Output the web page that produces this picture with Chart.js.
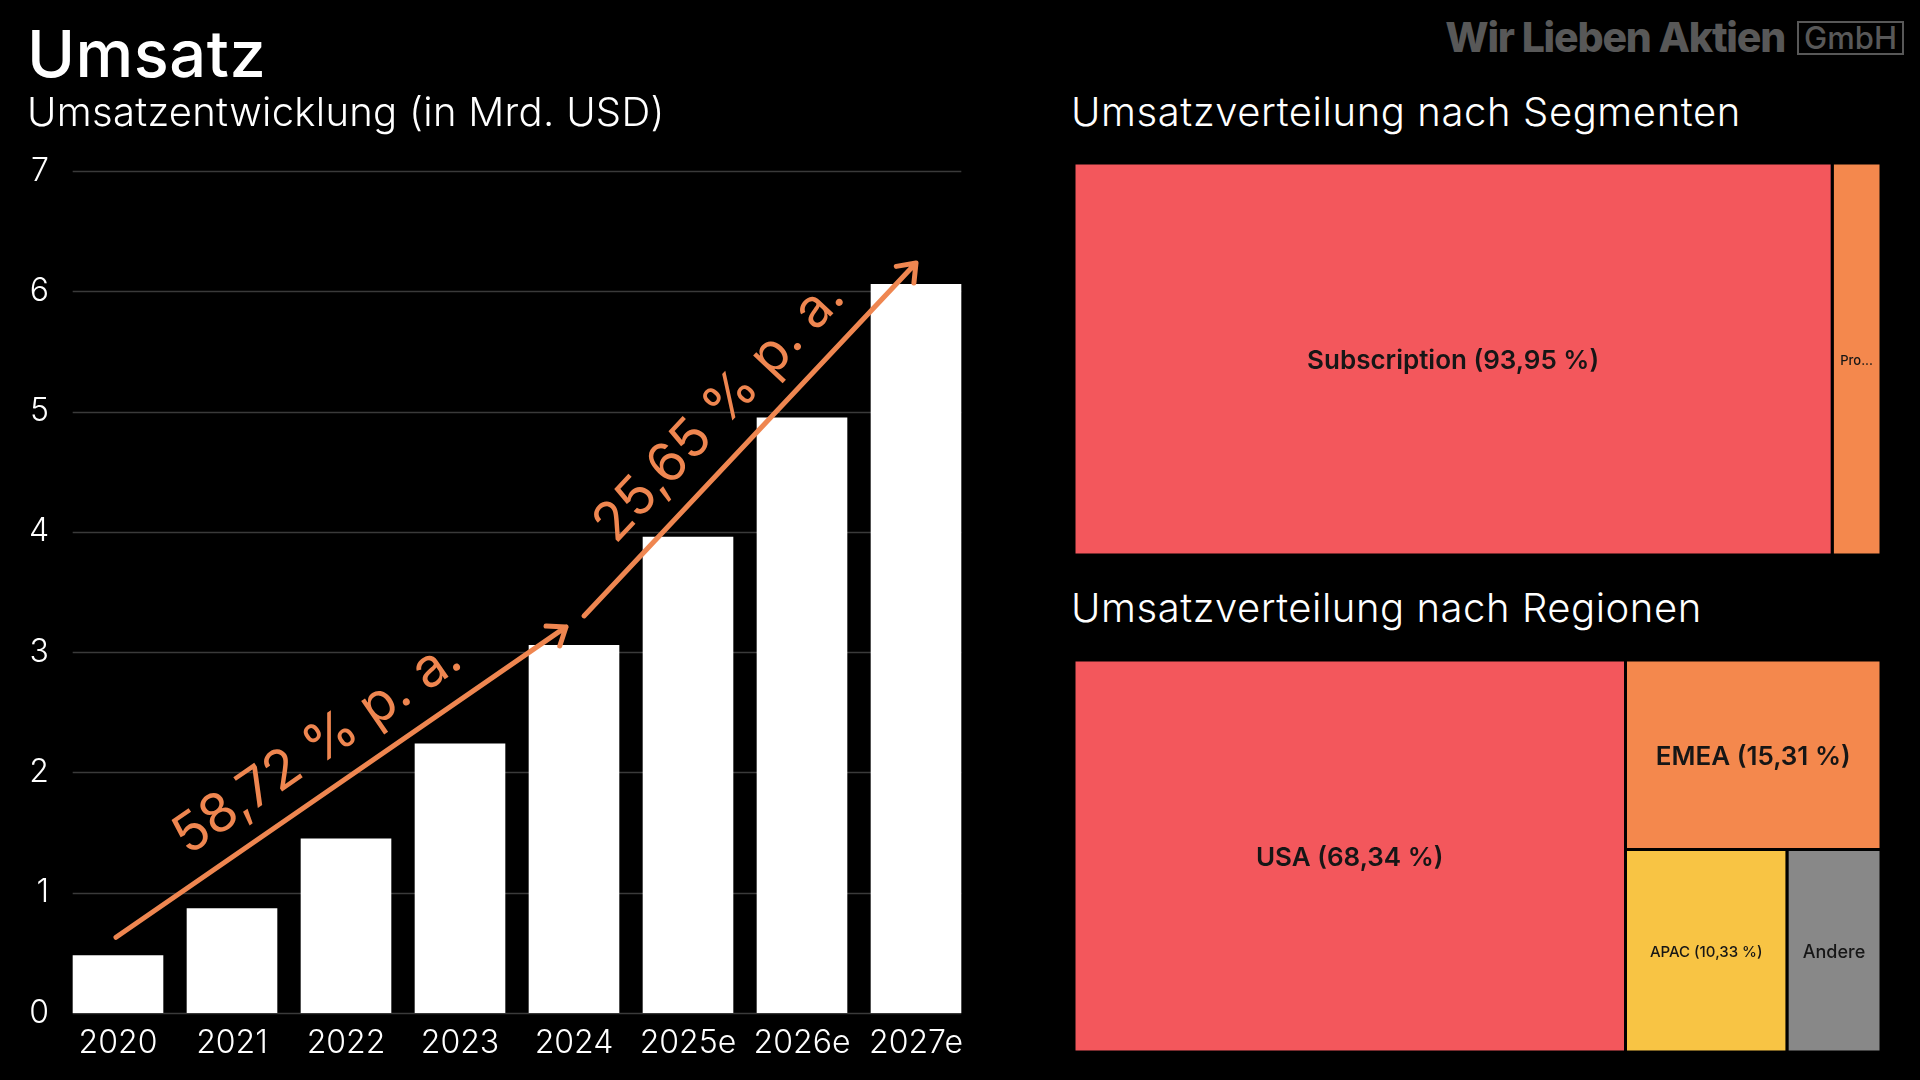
<!DOCTYPE html>
<html lang="de">
<head>
<meta charset="utf-8">
<title>Umsatz</title>
<script src="https://cdn.jsdelivr.net/npm/chart.js@4.4.1/dist/chart.umd.min.js"></script>
<style>
  html, body { margin: 0; padding: 0; background: #000; }
  body { width: 1920px; height: 1080px; position: relative; overflow: hidden;
         font-family: Inter, "Noto Sans", sans-serif; color: #fff; }
  .txt { position: absolute; white-space: nowrap; line-height: 1; z-index: 2; }
  #title { left: 27px; top: 21px; font-size: 65px; font-weight: 500; letter-spacing: 0.5px; }
  #sub { left: 27px; top: 92px; font-size: 40px; font-weight: 300; letter-spacing: 0.3px; }
  #segTitle { left: 1071px; top: 92px; font-size: 40px; font-weight: 300; letter-spacing: 0.6px; }
  #regTitle { left: 1071px; top: 588px; font-size: 40px; font-weight: 300; letter-spacing: 0.55px; }
  #logo { position: absolute; right: 16px; top: 17px; display: flex; align-items: center;
          color: #585858; z-index: 2; }
  #logo .wla { font-size: 41px; font-weight: 800; letter-spacing: -1.2px; line-height: 1; }
  #logo .gmbh { font-size: 31px; font-weight: 500; line-height: 28px; margin-left: 12px;
                border: 2px solid #585858; padding: 1px 5px; }
  #barWrap { position: absolute; left: 0; top: 0; width: 1000px; height: 1080px; }
  #segWrap { position: absolute; left: 1074px; top: 163px; width: 807px; height: 392px; }
  #regWrap { position: absolute; left: 1074px; top: 660px; width: 807px; height: 392px; }
</style>
</head>
<body>
<div class="txt" id="title">Umsatz</div>
<div class="txt" id="sub">Umsatzentwicklung (in Mrd. USD)</div>
<div class="txt" id="segTitle">Umsatzverteilung nach Segmenten</div>
<div class="txt" id="regTitle">Umsatzverteilung nach Regionen</div>
<div id="logo"><span class="wla">Wir Lieben Aktien</span><span class="gmbh">GmbH</span></div>

<div id="barWrap"><canvas id="barChart" width="1000" height="1080"></canvas></div>
<div id="segWrap"><canvas id="segChart" width="807" height="392"></canvas></div>
<div id="regWrap"><canvas id="regChart" width="807" height="392"></canvas></div>

<script>
const FONT = 'Inter, "Noto Sans", sans-serif';

// Umsatz in Mrd. USD
const years = ['2020', '2021', '2022', '2023', '2024', '2025e', '2026e', '2027e'];
const revenue = [0.48, 0.87, 1.45, 2.24, 3.06, 3.96, 4.95, 6.06];
const yTicks = [0, 1, 2, 3, 4, 5, 6, 7];

// Wachstumspfeile
const cagrText = ['58,72 % p. a.', '25,65 % p. a.'];
const cagrFrom = ['2020', '2024'];
const cagrTo = ['2024', '2027e'];

// Segmente / Regionen (Anteil in %)
const segNames = ['Subscription', 'Professional Services'];
const segShares = [93.95, 6.05];
const regNames = ['USA', 'EMEA', 'APAC', 'Andere'];
const regShares = [68.34, 15.31, 10.33, 6.02];

const palette = ['#F3575C', '#F4884D', '#F8C444', '#888888'];
const ORANGE = '#EF8650';

Chart.defaults.font.family = FONT;
Chart.defaults.animation = false;

const pct = v => v.toFixed(2).replace('.', ',') + ' %';

// horizontal grid lines only across the bars
const gridPlugin = {
  id: 'barGrid',
  beforeDatasetsDraw(chart) {
    const {ctx} = chart;
    const bars = chart.getDatasetMeta(0).data;
    const first = bars[0], last = bars[bars.length - 1];
    const left = first.x - first.width / 2;
    const right = last.x + last.width / 2;
    const y = chart.scales.y;
    ctx.save();
    ctx.strokeStyle = '#3a3a3a';
    ctx.lineWidth = 1.5;
    y.ticks.forEach(t => {
      const py = Math.round(y.getPixelForValue(t.value)) + 0.5;
      ctx.beginPath();
      ctx.moveTo(left, py);
      ctx.lineTo(right, py);
      ctx.stroke();
    });
    ctx.restore();
  }
};

const arrowPlugin = {
  id: 'cagrArrows',
  afterDatasetsDraw(chart) {
    const {ctx} = chart;
    const {x, y} = chart.scales;
    cagrText.forEach((label, i) => {
      const a = years.indexOf(cagrFrom[i]);
      const b = years.indexOf(cagrTo[i]);
      const x1 = x.getPixelForValue(a) + (i ? 10 : -2);
      const y1 = y.getPixelForValue(revenue[a]) - (i ? 29 : 18);
      const x2 = x.getPixelForValue(b) - (i ? 0 : 8);
      const y2 = y.getPixelForValue(revenue[b]) - (i ? 21 : 18);
      const ang = Math.atan2(y2 - y1, x2 - x1);

      ctx.save();
      ctx.strokeStyle = ORANGE;
      ctx.lineWidth = 5;
      ctx.lineCap = 'round';
      ctx.lineJoin = 'round';
      ctx.beginPath();
      ctx.moveTo(x1, y1);
      ctx.lineTo(x2, y2);
      const arm = 20;
      ctx.moveTo(x2 + arm * Math.cos(ang + Math.PI - 0.65), y2 + arm * Math.sin(ang + Math.PI - 0.65));
      ctx.lineTo(x2, y2);
      ctx.lineTo(x2 + arm * Math.cos(ang + Math.PI + 0.65), y2 + arm * Math.sin(ang + Math.PI + 0.65));
      ctx.stroke();

      const mx = (x1 + x2) / 2 + 42 * Math.sin(ang);
      const my = (y1 + y2) / 2 - 42 * Math.cos(ang);
      ctx.translate(mx, my);
      ctx.rotate(ang);
      ctx.fillStyle = ORANGE;
      ctx.font = '400 54px ' + FONT;
      ctx.textAlign = 'center';
      ctx.textBaseline = 'middle';
      ctx.fillText(label, 0, 0);
      ctx.restore();
    });
  }
};

new Chart(document.getElementById('barChart'), {
  type: 'bar',
  data: {
    labels: years,
    datasets: [{
      data: revenue,
      backgroundColor: '#ffffff',
      borderWidth: 0,
      categoryPercentage: 1,
      barPercentage: 0.795
    }]
  },
  options: {
    responsive: false,
    events: [],
    layout: { padding: { top: 171, right: 27, bottom: 0, left: 0 } },
    plugins: { legend: { display: false }, tooltip: { enabled: false } },
    scales: {
      x: {
        grid: { display: false, drawTicks: false },
        border: { display: false },
        ticks: { color: '#fff', font: { size: 32, weight: '300' }, padding: 11, maxRotation: 0 },
        afterFit: s => { s.height = 67; }
      },
      y: {
        min: yTicks[0],
        max: yTicks[yTicks.length - 1],
        grid: { display: false, drawTicks: false },
        border: { display: false },
        ticks: { stepSize: 1, color: '#fff', font: { size: 32, weight: '300' }, padding: 12 },
        afterFit: s => { s.width = 61; }
      }
    }
  },
  plugins: [gridPlugin, arrowPlugin]
});

// squarified treemap layout, result in percent of width / height
function squarify(values, W, H) {
  const total = values.reduce((s, v) => s + v, 0);
  const areas = values.map(v => v / total * W * H);
  const out = [];
  let x = 0, y = 0, w = W, h = H, i = 0;
  while (i < areas.length) {
    const side = Math.min(w, h);
    const worst = r => {
      const s = r.reduce((p, q) => p + q, 0);
      return Math.max(side * side * Math.max(...r) / (s * s), s * s / (side * side * Math.min(...r)));
    };
    const row = [areas[i]];
    let j = i + 1;
    while (j < areas.length && worst([...row, areas[j]]) <= worst(row)) { row.push(areas[j]); j++; }
    const s = row.reduce((p, q) => p + q, 0);
    if (w >= h) {
      const cw = s / h;
      let yy = y;
      row.forEach(a => { const rh = a / cw; out.push([x, yy, x + cw, yy + rh]); yy += rh; });
      x += cw; w -= cw;
    } else {
      const rh = s / w;
      let xx = x;
      row.forEach(a => { const rw = a / rh; out.push([xx, y, xx + rw, y + rh]); xx += rw; });
      y += rh; h -= rh;
    }
    i = j;
  }
  return out.map(r => [r[0] / W * 100, r[1] / H * 100, r[2] / W * 100, r[3] / H * 100]);
}

function fitLabel(ctx, name, share, w, h) {
  const base = 26;
  const measure = (t, size, wt) => { ctx.font = `${wt} ${size}px ${FONT}`; return ctx.measureText(t).width; };
  const full = `${name} (${pct(share)})`;
  let tw = measure(full, base, 600);
  if (tw <= w * 0.8) return { text: full, size: base, weight: 600 };
  const maxW = w * 0.7;
  tw = measure(full, base, 500);
  let size = Math.floor(base * maxW / tw);
  if (size >= 14) return { text: full, size, weight: 500 };
  tw = measure(name, base, 500);
  size = Math.min(base, Math.floor(base * maxW / tw));
  if (size >= 14) return { text: name, size, weight: 500 };
  size = 13;
  let t = name;
  while (t.length > 1 && measure(t + '...', size, 500) > w * 0.7) t = t.slice(0, -1);
  return { text: t + '...', size, weight: 500 };
}

function makeTreemap(id, names, shares) {
  const canvas = document.getElementById(id);
  const rects = squarify(shares, canvas.width, canvas.height);
  const datasets = rects.map((r, i) => ({
    data: [
      { x: r[0], y: r[1] }, { x: r[2], y: r[1] }, { x: r[2], y: r[3] },
      { x: r[0], y: r[3] }, { x: r[0], y: r[1] }
    ],
    showLine: true,
    fill: 'shape',
    backgroundColor: palette[i],
    borderColor: '#000',
    borderWidth: 3,
    borderJoinStyle: 'round',
    pointRadius: 0,
    tension: 0
  }));

  const labelPlugin = {
    id: 'cellLabels',
    afterDatasetsDraw(chart) {
      const {ctx} = chart;
      const {x, y} = chart.scales;
      rects.forEach((r, i) => {
        const px0 = x.getPixelForValue(r[0]), px1 = x.getPixelForValue(r[2]);
        const py0 = y.getPixelForValue(r[1]), py1 = y.getPixelForValue(r[3]);
        const w = Math.abs(px1 - px0), h = Math.abs(py1 - py0);
        const lab = fitLabel(ctx, names[i], shares[i], w, h);
        ctx.save();
        ctx.font = `${lab.weight} ${lab.size}px ${FONT}`;
        ctx.fillStyle = '#161616';
        ctx.textAlign = 'center';
        ctx.textBaseline = 'middle';
        ctx.fillText(lab.text, (px0 + px1) / 2, (py0 + py1) / 2 + 2);
        ctx.restore();
      });
    }
  };

  new Chart(canvas, {
    type: 'scatter',
    data: { datasets },
    options: {
      responsive: false,
      events: [],
      layout: { padding: 0 },
      plugins: { legend: { display: false }, tooltip: { enabled: false } },
      scales: {
        x: { type: 'linear', min: 0, max: 100, display: false },
        y: { type: 'linear', min: 0, max: 100, reverse: true, display: false }
      }
    },
    plugins: [labelPlugin]
  });
}

makeTreemap('segChart', segNames, segShares);
makeTreemap('regChart', regNames, regShares);
</script>
</body>
</html>
